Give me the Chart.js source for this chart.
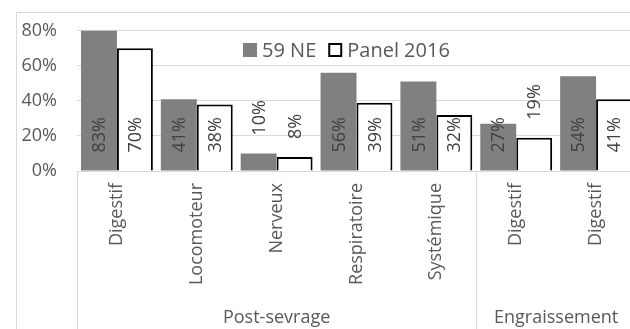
<!DOCTYPE html>
<html>
<head>
<meta charset="utf-8">
<script src="https://cdn.jsdelivr.net/npm/chart.js@4/dist/chart.umd.min.js"></script>
<style>
  html, body { margin: 0; padding: 0; background: #fff; overflow: hidden; }
  #wrap { position: relative; width: 640px; height: 329px; }
</style>
</head>
<body>
<div id="wrap"><canvas id="chart"></canvas></div>
<script>
// chart data
const categories = ["Digestif", "Locomoteur", "Nerveux", "Respiratoire", "Systémique", "Digestif", "Digestif"];
const groupLabels = ["Post-sevrage", "Engraissement"];
const groupSizes = [5, 2];
const ne59 = [83, 41, 10, 56, 51, 27, 54];
const panel2016 = [70, 38, 8, 39, 32, 19, 41];
const seriesNames = ["59 NE", "Panel 2016"];
const yMax = 80;
const yStep = 20;

const FONT = "'Open Sans', sans-serif";
const TEXT = "#595959";
const LINE = "#d9d9d9";

Chart.defaults.font.family = FONT;
Chart.defaults.color = TEXT;

// light frame of the chart object (top and left edges visible)
const framePlugin = {
  id: "frame",
  beforeDraw(chart) {
    const ctx = chart.ctx;
    ctx.save();
    ctx.strokeStyle = LINE;
    ctx.lineWidth = 1;
    ctx.beginPath();
    ctx.moveTo(16.5, chart.height + 5);
    ctx.lineTo(16.5, 12.5);
    ctx.lineTo(chart.width + 5, 12.5);
    ctx.stroke();
    ctx.restore();
  },
};

// value labels, rotated, at the base of the bar or above short bars
const valueLabels = {
  id: "valueLabels",
  afterDatasetsDraw(chart) {
    const ctx = chart.ctx;
    ctx.save();
    ctx.font = "18px " + FONT;
    ctx.fillStyle = "#404040";
    ctx.textAlign = "left";
    ctx.textBaseline = "middle";
    chart.data.datasets.forEach((ds, i) => {
      const meta = chart.getDatasetMeta(i);
      meta.data.forEach((bar, j) => {
        const p = bar.getProps(["x", "y", "base"], true);
        const h = p.base - p.y;
        const start = h >= 40 ? p.base - 18 : p.y - 18;
        ctx.save();
        ctx.translate(p.x, start);
        ctx.rotate(-Math.PI / 2);
        ctx.fillText(ds.data[j] + "%", 0, 1);
        ctx.restore();
      });
    });
    ctx.restore();
  },
};

// legend drawn inside the plot, like the original
const innerLegend = {
  id: "innerLegend",
  afterDatasetsDraw(chart) {
    const ctx = chart.ctx;
    ctx.save();
    ctx.font = "20px " + FONT;
    ctx.textBaseline = "middle";
    ctx.textAlign = "left";
    let x = 243;
    const y = 50;
    chart.data.datasets.forEach((ds) => {
      ctx.fillStyle = ds.backgroundColor;
      ctx.fillRect(x, y - 7, 14, 14);
      if (ds.borderWidth) {
        ctx.strokeStyle = ds.borderColor;
        ctx.lineWidth = 2;
        ctx.strokeRect(x + 1, y - 6, 12, 12);
      }
      ctx.fillStyle = TEXT;
      ctx.fillText(ds.label, x + 19, y + 1);
      x += 19 + ctx.measureText(ds.label).width + 12;
    });
    ctx.restore();
  },
};

// second level of the category axis: group names and separators
const groupAxis = {
  id: "groupAxis",
  afterDraw(chart) {
    const ctx = chart.ctx;
    const xs = chart.scales.x;
    const area = chart.chartArea;
    const half = (xs.getPixelForValue(1) - xs.getPixelForValue(0)) / 2;
    ctx.save();
    ctx.strokeStyle = LINE;
    ctx.lineWidth = 1;
    ctx.font = "18px " + FONT;
    ctx.fillStyle = TEXT;
    ctx.textAlign = "center";
    ctx.textBaseline = "alphabetic";
    let idx = 0;
    const edges = [area.left];
    groupLabels.forEach((g, k) => {
      const first = idx;
      const last = idx + groupSizes[k] - 1;
      const cx = (xs.getPixelForValue(first) + xs.getPixelForValue(last)) / 2;
      ctx.fillText(g, cx, 323);
      edges.push(xs.getPixelForValue(last) + half);
      idx = last + 1;
    });
    edges.forEach((ex) => {
      const px = Math.round(ex) + 0.5;
      ctx.beginPath();
      ctx.moveTo(px, area.bottom);
      ctx.lineTo(px, chart.height + 5);
      ctx.stroke();
    });
    ctx.restore();
  },
};

new Chart(document.getElementById("chart"), {
  type: "bar",
  data: {
    labels: categories,
    datasets: [
      {
        label: seriesNames[0],
        data: ne59,
        backgroundColor: "#808080",
        borderWidth: 0,
        barPercentage: 1,
        categoryPercentage: 0.9,
      },
      {
        label: seriesNames[1],
        data: panel2016,
        backgroundColor: "#ffffff",
        borderColor: "#000000",
        borderWidth: 2,
        barPercentage: 1,
        categoryPercentage: 0.9,
      },
    ],
  },
  options: {
    responsive: true,
    maintainAspectRatio: false,
    animation: false,
    layout: { padding: { left: 0, top: 28, right: 4, bottom: 0 } },
    plugins: {
      legend: { display: false },
      tooltip: { enabled: false },
    },
    scales: {
      x: {
        grid: { display: false, drawTicks: false },
        border: { display: true, color: LINE, width: 1 },
        ticks: {
          autoSkip: false,
          minRotation: 90,
          maxRotation: 90,
          padding: 12,
          color: TEXT,
          font: { size: 18 },
        },
        afterFit(scale) {
          scale.height = 158;
        },
      },
      y: {
        min: 0,
        max: yMax,
        grid: { color: LINE, drawTicks: false },
        border: { display: false },
        ticks: {
          stepSize: yStep,
          padding: 20,
          color: TEXT,
          font: { size: 18 },
          callback: (v) => v + "%",
        },
        afterFit(scale) {
          scale.width = 77;
        },
      },
    },
  },
  plugins: [framePlugin, valueLabels, innerLegend, groupAxis],
});
</script>
</body>
</html>
